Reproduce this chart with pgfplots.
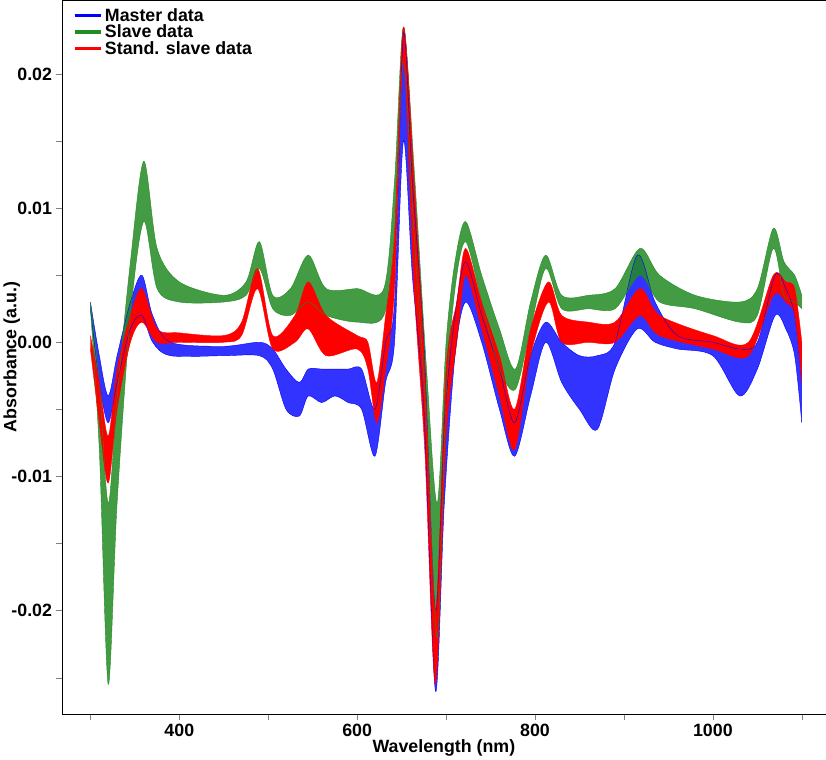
\documentclass[border=0pt]{standalone}
\usepackage{pgfplots}
\pgfplotsset{compat=1.18}
\usepackage{pgfplotstable}
\usepgfplotslibrary{fillbetween}
\usepackage{fontspec}
\setmainfont{Liberation Sans}
\definecolor{mblue}{RGB}{0,0,255}
\definecolor{sgreen}{RGB}{34,139,34}
\definecolor{sred}{RGB}{255,0,0}
\pgfplotstableread{
x lo hi
300 0.0025 0.003
310 -0.003 -0.001
320 -0.006 -0.004
330 -0.003 -0.001
345 0.001 0.003
358 0.002 0.005
370 0.0 0.002
390 -0.001 0.0
450 -0.001 -0.0003
490 -0.001 0.0
505 -0.002 -0.0005
520 -0.005 -0.002
535 -0.0055 -0.003
545 -0.004 -0.002
560 -0.0045 -0.002
575 -0.004 -0.002
590 -0.0045 -0.002
605 -0.005 -0.002
620 -0.0085 -0.005
632 -0.003 0.0
642 0.0 0.003
652 0.015 0.023
662 0.005 0.012
675 -0.005 0.0
688 -0.026 -0.02
698 -0.012 -0.006
710 -0.001 0.002
722 0.003 0.006
740 0.0 0.002
760 -0.005 -0.002
777 -0.0085 -0.006
795 -0.004 -0.001
812 0.0 0.0015
830 -0.003 0.0
850 -0.005 -0.001
870 -0.0065 -0.001
890 -0.002 0.0
915 0.001 0.0065
935 0.0 0.003
960 -0.0005 0.0005
1000 -0.001 0.0
1030 -0.004 -0.0005
1050 -0.002 0.0
1070 0.002 0.005
1082 0.001 0.004
1092 -0.001 0.002
1100 -0.006 -0.003
}\master
\pgfplotstableread{
x lo hi
300 0.0025 0.003
310 -0.008 -0.003
320 -0.0255 -0.012
330 -0.012 -0.004
345 0.002 0.006
360 0.009 0.0135
375 0.004 0.007
400 0.003 0.0045
450 0.003 0.0035
475 0.0035 0.0045
490 0.0055 0.0075
505 0.0025 0.0035
525 0.002 0.004
545 0.003 0.0065
565 0.002 0.004
600 0.0015 0.004
630 0.002 0.004
642 0.008 0.012
652 0.021 0.0235
664 0.008 0.013
678 -0.006 -0.002
690 -0.022 -0.012
700 -0.004 0.0
710 0.004 0.006
722 0.0075 0.009
740 0.003 0.005
760 -0.002 0.001
778 -0.0035 -0.002
795 0.001 0.003
812 0.0055 0.0065
830 0.0025 0.0035
860 0.0025 0.0035
890 0.0025 0.004
918 0.005 0.007
940 0.003 0.005
980 0.0025 0.0035
1030 0.0015 0.003
1050 0.002 0.004
1068 0.007 0.0085
1080 0.0035 0.006
1092 0.003 0.005
1100 0.0025 0.0035
}\slave
\pgfplotstableread{
x lo hi
300 -0.0005 0.0005
310 -0.006 -0.003
320 -0.0105 -0.007
330 -0.005 -0.002
345 0.0 0.002
358 0.0015 0.004
375 0.0 0.001
400 0.0 0.0007
450 0.0 0.0005
470 0.0005 0.0015
488 0.004 0.0055
505 -0.0005 0.0005
530 0.0 0.002
545 0.001 0.0045
565 -0.001 0.002
600 -0.0005 0.0005
612 -0.002 0.0
622 -0.006 -0.003
632 -0.002 0.002
642 0.004 0.008
652 0.021 0.0235
664 0.004 0.012
676 -0.008 -0.002
688 -0.0255 -0.02
700 -0.007 -0.002
712 0.0 0.003
722 0.005 0.007
740 0.001 0.003
760 -0.004 -0.001
777 -0.008 -0.005
795 -0.001 0.001
815 0.003 0.0045
830 0.0 0.002
860 0.0 0.0015
890 0.0 0.0015
918 0.002 0.004
940 0.0005 0.002
1000 -0.0005 0.0005
1040 -0.001 0.0
1068 0.0035 0.005
1082 0.003 0.0045
1092 0.002 0.004
1100 -0.003 0.0
}\stand
\begin{document}
\begin{tikzpicture}
\begin{axis}[
  scale only axis, width=730pt, height=682pt,
  xmin=268, xmax=1127, ymin=-0.0277, ymax=0.0255,
  scaled ticks=false,
  font=\fontsize{17}{20}\selectfont\bfseries,
  tick align=outside, tick pos=left, major tick length=6pt,
  xtick={300,400,...,1100}, xticklabels={,400,,600,,800,,1000,},
  ytick={-0.025,-0.02,-0.015,-0.01,-0.005,0,0.005,0.01,0.015,0.02},
  yticklabels={,-0.02,,-0.01,,0.00,,0.01,,0.02},
  xlabel={Wavelength (nm)},
  ylabel={Absorbance (a.u.)},
  xlabel style={yshift=4pt},
  ylabel style={at={(axis description cs:-0.05,0.5)}},
  legend style={draw=none, fill=none, at={(0.01,0.995)}, anchor=north west, font=\fontsize{17}{20}\selectfont\bfseries, row sep=-2pt},
  legend cell align=left,
  legend image code/.code={\draw[#1, line width=3pt] (0pt,0pt) -- (0.9cm,0pt);},
]
\addplot[mblue, thin, smooth, name path=ml] table[x=x,y=lo]{\master};
\addlegendentry{Master data}
\addplot[mblue, thin, smooth, name path=mh, forget plot] table[x=x,y=hi]{\master};
\addplot[sgreen, thin, smooth, name path=sl] table[x=x,y=lo]{\slave};
\addlegendentry{Slave data}
\addplot[sgreen, thin, smooth, name path=sh, forget plot] table[x=x,y=hi]{\slave};
\addplot[sred, thin, smooth, name path=rl] table[x=x,y=lo]{\stand};
\addlegendentry{Stand. slave data}
\addplot[sred, thin, smooth, name path=rh, forget plot] table[x=x,y=hi]{\stand};
\addplot[mblue, opacity=0.8, forget plot] fill between[of=ml and mh];
\addplot[sgreen, opacity=0.85, forget plot] fill between[of=sl and sh];
\addplot[sred, forget plot] fill between[of=rl and rh];
\end{axis}
\end{tikzpicture}
\end{document}
